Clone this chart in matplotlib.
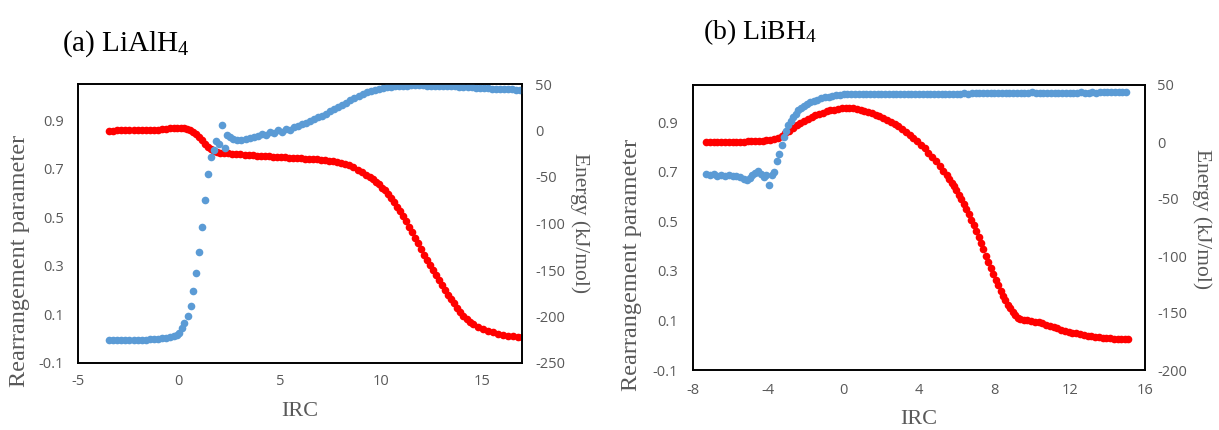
import matplotlib
matplotlib.use("Agg")
import matplotlib.pyplot as plt

plt.rcParams['mathtext.fontset'] = 'custom'
plt.rcParams['mathtext.rm'] = 'Liberation Serif'
plt.rcParams['mathtext.it'] = 'Liberation Serif:italic'

# ---------------- Panel (a) LiAlH4 ----------------
irc_a_energy = [-3.45, -3.25, -3.05, -2.85, -2.65, -2.45, -2.25, -2.05, -1.85, -1.65, -1.45, -1.25,
                -1.05, -0.85, -0.65, -0.45, -0.25, -0.1,
                0.1, 0.25, 0.4, 0.55, 0.7, 0.85, 1.0, 1.15, 1.3, 1.45, 1.6, 1.75, 1.9, 2.05,
                2.25, 2.45, 2.65, 2.85, 3.05, 3.25, 3.45, 3.65, 3.85, 4.05, 4.25, 4.45, 4.65, 4.85,
                5.05, 5.25, 5.45, 5.65, 5.85, 6.05, 6.25, 6.45, 6.65, 6.85, 7.05, 7.25, 7.45, 7.65,
                7.85, 8.05, 8.25, 8.45, 8.65, 8.85, 9.05, 9.25, 9.45,
                9.6, 9.75, 9.9, 10.05, 10.2, 10.35, 10.5, 10.65, 10.8, 10.95, 11.1, 11.25, 11.4,
                11.55, 11.7, 11.85, 12.0, 12.15, 12.3, 12.45, 12.6, 12.75, 12.9, 13.05, 13.2, 13.35,
                13.5, 13.65, 13.8, 13.95, 14.1, 14.25, 14.4, 14.55,
                14.8, 15.05, 15.3, 15.55, 15.8, 16.05, 16.3, 16.55, 16.8, 17.0]
energy_a = [0.0, 0.0, 0.1, 0.1, 0.1, 0.2, 0.2, 0.3, 0.4, 0.5, 0.6, 0.8,
            1.0, 1.4, 1.8, 2.3, 2.7, 3.0,
            3.0, 2.6, 1.7, 0.3, -1.3, -3.6, -6.8, -10.6, -14.6, -17.9, -20.3, -21.9, -23.0, -23.8,
            -24.3, -24.7, -25.0, -25.4, -25.7, -26.0, -26.3, -26.6, -26.9, -27.2, -27.5, -27.8, -28.0, -28.3,
            -28.6, -28.8, -29.1, -29.4, -29.6, -29.9, -30.2, -30.5, -30.8, -31.1, -31.4, -31.8, -32.3, -32.9,
            -33.7, -34.7, -36.0, -37.6, -39.6, -42.0, -44.7, -47.4, -49.8,
            -52.0, -55.0, -58.0, -61.5, -64.5, -68.5, -72.8, -77.2, -82.0, -87.0, -92.0, -97.5, -103.5,
            -109.5, -115.5, -121.5, -127.5, -133.5, -139.0, -144.5, -150.0, -155.5, -161.0, -166.5, -171.5, -176.5,
            -181.5, -186.0, -190.5, -195.0, -199.0, -202.5, -205.5, -208.0,
            -211.0, -213.5, -215.5, -217.0, -218.3, -219.5, -220.5, -221.3, -222.0, -222.5]

irc_a_param = [-3.45, -3.25, -3.05, -2.85, -2.65, -2.45, -2.25, -2.05, -1.85, -1.65, -1.45, -1.25,
               -1.05, -0.85, -0.65, -0.45, -0.25, -0.1, 0.02,
               0.14, 0.27, 0.43, 0.58, 0.71, 0.85, 1.01, 1.14, 1.28, 1.43, 1.58, 1.72, 1.85, 2.0,
               2.15, 2.28, 2.40, 2.55,
               2.7, 2.9, 3.1, 3.3, 3.5, 3.7, 3.9, 4.1, 4.3, 4.5, 4.7, 4.9, 5.1, 5.3, 5.5, 5.7, 5.9,
               6.1, 6.3, 6.5, 6.7, 6.9, 7.1, 7.3, 7.5, 7.7, 7.9, 8.1, 8.3, 8.5, 8.7, 8.9, 9.1, 9.3,
               9.5, 9.7, 9.9, 10.1, 10.3, 10.5, 10.7, 10.9, 11.1, 11.3, 11.5, 11.7, 11.9, 12.1, 12.3,
               12.5, 12.7, 12.9, 13.1, 13.3, 13.5, 13.7, 13.9, 14.1, 14.3, 14.5, 14.7, 14.9, 15.1,
               15.3, 15.5, 15.7, 15.9, 16.1, 16.3, 16.5, 16.7, 16.9]
param_a = [-0.005, -0.005, -0.005, -0.005, -0.005, -0.005, -0.005, -0.005, -0.004, -0.004, -0.003, -0.002,
           -0.001, 0.001, 0.003, 0.006, 0.010, 0.016, 0.025,
           0.043, 0.063, 0.093, 0.137, 0.196, 0.269, 0.357, 0.460, 0.573, 0.677, 0.748, 0.778, 0.815, 0.803,
           0.882, 0.785, 0.840, 0.832,
           0.824, 0.818, 0.820, 0.823, 0.827, 0.831, 0.836, 0.842, 0.838, 0.853, 0.846, 0.861, 0.852, 0.866,
           0.862, 0.874, 0.878,
           0.884, 0.890, 0.898, 0.905, 0.912, 0.920, 0.928, 0.937, 0.946, 0.955, 0.964, 0.973, 0.982, 0.992,
           1.001, 1.009, 1.016,
           1.022, 1.027, 1.031, 1.034, 1.036, 1.038, 1.040, 1.041, 1.042, 1.043, 1.044, 1.044, 1.044, 1.044,
           1.043, 1.043, 1.043, 1.042, 1.042, 1.041, 1.041, 1.040, 1.039, 1.038, 1.038, 1.036, 1.035, 1.034,
           1.033, 1.032, 1.031, 1.030, 1.030, 1.029, 1.028, 1.028, 1.027, 1.027]

# ---------------- Panel (b) LiBH4 ----------------
irc_b_energy = [-7.3, -7.1, -6.9, -6.7, -6.5, -6.3, -6.1, -5.9, -5.7, -5.5, -5.3, -5.1, -4.9, -4.7,
                -4.5, -4.3, -4.1, -3.9, -3.7, -3.5, -3.3, -3.1, -2.9, -2.7, -2.5, -2.3, -2.1, -1.9,
                -1.7, -1.5, -1.3, -1.1, -0.9, -0.7, -0.5, -0.3, -0.1, 0.1, 0.3, 0.5, 0.7, 0.9, 1.1,
                1.3, 1.5, 1.7, 1.9, 2.1, 2.3, 2.5, 2.7, 2.9, 3.1, 3.3, 3.5, 3.7, 3.9, 4.1, 4.3, 4.5,
                4.7, 4.9, 5.1, 5.3, 5.47,
                5.6, 5.73, 5.86, 5.99, 6.12, 6.25, 6.38, 6.51, 6.64, 6.77, 6.9, 7.03, 7.16, 7.29,
                7.42, 7.55, 7.68, 7.81, 7.94, 8.07, 8.2, 8.33, 8.46, 8.59, 8.72, 8.85, 8.98, 9.11,
                9.24, 9.37,
                9.55, 9.75, 9.95, 10.15, 10.35, 10.55, 10.75, 10.95, 11.15, 11.35, 11.55, 11.75,
                11.95, 12.15, 12.35, 12.55, 12.75, 12.95, 13.15, 13.35, 13.55, 13.75, 13.95, 14.15,
                14.35, 14.55, 14.75, 14.95, 15.1]
energy_b = [0.0, 0.0, 0.0, 0.0, 0.1, 0.1, 0.1, 0.2, 0.2, 0.3, 0.4, 0.5, 0.6, 0.8,
            0.9, 1.1, 1.4, 1.9, 2.7, 3.8, 5.6, 7.6, 10.0, 12.5, 14.8, 16.9, 18.8, 20.5,
            22.0, 23.4, 24.7, 25.8, 26.8, 27.7, 28.5, 29.2, 29.8, 30.0, 29.9, 29.5, 28.9, 28.2, 27.4,
            26.4, 25.3, 24.1, 22.8, 21.3, 19.7, 17.9, 15.9, 13.7, 11.4, 8.9, 6.2, 3.4, 0.6, -2.2, -5.6, -9.3,
            -13.1, -17.0, -21.1, -25.3, -29.1,
            -32.3, -35.6, -39.0, -42.5, -46.2, -50.2, -54.4, -58.8, -63.4, -68.2, -73.2, -78.3, -83.5, -88.8,
            -94.2, -99.6, -105.0, -110.4, -115.7, -120.9, -125.8, -130.4, -134.7, -138.8, -142.6, -146.0,
            -149.3, -152.0, -154.0, -155.2,
            -155.9, -156.4, -157.0, -157.6, -158.3, -159.2, -160.2, -161.3, -162.4, -163.5, -164.5, -165.5,
            -166.4, -167.2, -167.9, -168.6, -169.2, -169.8, -170.3, -170.8, -171.2, -171.6, -172.0, -172.3,
            -172.6, -172.8, -173.0, -173.1, -173.2]

irc_b_param = [-7.3, -7.1, -6.9, -6.7, -6.5, -6.3, -6.1, -5.9, -5.7, -5.5, -5.3, -5.15, -5.0, -4.85,
               -4.7, -4.55, -4.4, -4.25, -4.1, -3.95, -3.82, -3.70, -3.56, -3.43, -3.29, -3.15, -3.06,
               -2.94, -2.82, -2.7, -2.55, -2.4, -2.25, -2.1, -1.95, -1.8, -1.6, -1.4, -1.2, -1.0, -0.8,
               -0.6, -0.4, -0.2, 0.0,
               0.2, 0.4, 0.6, 0.8, 1.0, 1.2, 1.4, 1.6, 1.8, 2.0, 2.2, 2.4, 2.6, 2.8, 3.0,
               3.2, 3.4, 3.6, 3.8, 4.0, 4.2, 4.4, 4.6, 4.8, 5.0, 5.2, 5.4, 5.6, 5.8, 6.0,
               6.2, 6.4, 6.6, 6.8, 7.0, 7.2, 7.4, 7.6, 7.8, 8.0, 8.2, 8.4, 8.6, 8.8, 9.0,
               9.2, 9.4, 9.6, 9.8, 10.0, 10.2, 10.4, 10.6, 10.8, 11.0, 11.2, 11.4, 11.6, 11.8, 12.0,
               12.2, 12.4, 12.6, 12.8, 13.0, 13.2, 13.4, 13.6, 13.8, 14.0, 14.2, 14.4, 14.6, 14.8, 15.0]
param_b = [0.690, 0.688, 0.689, 0.683, 0.687, 0.684, 0.686, 0.681, 0.684, 0.678, 0.671, 0.666, 0.676, 0.687,
           0.695, 0.701, 0.690, 0.677, 0.687, 0.646, 0.688, 0.698, 0.743, 0.772, 0.809, 0.840, 0.863,
           0.887, 0.905, 0.920, 0.935, 0.948, 0.958, 0.967, 0.974, 0.980, 0.986, 0.991, 0.996, 1.000, 1.003,
           1.006, 1.008, 1.010, 1.012,
           1.012, 1.012, 1.012, 1.012, 1.012, 1.012, 1.013, 1.012, 1.012, 1.013, 1.013, 1.012, 1.013, 1.013, 1.013,
           1.013, 1.013, 1.014, 1.013, 1.014, 1.014, 1.014, 1.014, 1.015, 1.014, 1.015, 1.015, 1.015, 1.015, 1.015,
           1.015, 1.016, 1.015, 1.016, 1.016, 1.016, 1.016, 1.016, 1.017, 1.016, 1.017, 1.017, 1.017, 1.017, 1.017,
           1.018, 1.017, 1.018, 1.019, 1.020, 1.019, 1.018, 1.018, 1.019, 1.018, 1.018, 1.019, 1.019, 1.018, 1.019,
           1.019, 1.019, 1.020, 1.019, 1.019, 1.020, 1.019, 1.020, 1.020, 1.020, 1.020, 1.020, 1.020, 1.020, 1.020]

# ticks / labels
xticks_a = [-5, 0, 5, 10, 15]
xticks_b = [-8, -4, 0, 4, 8, 12, 16]
yticks_left = [-0.1, 0.1, 0.3, 0.5, 0.7, 0.9]
yticklabels_left = ['-0.1', '0.1', '0.3', '0.5', '0.7', '0.9']
yticks_right_a = [-250, -200, -150, -100, -50, 0, 50]
yticks_right_b = [-200, -150, -100, -50, 0, 50]

BLUE = '#5B9BD5'
RED = '#FF0000'
GRAY = '#595959'
TICKFONT = dict(family='Open Sans', size=10.5)

W, H = 1219, 430
fig = plt.figure(figsize=(W / 100, H / 100), dpi=100)


def make_panel(rect, xlim, xticks, ylim_r, yticks_r, irc_p, par, irc_e, en, pads):
    l, r, t, b = rect
    ax = fig.add_axes([l / W, 1 - b / H, (r - l) / W, (b - t) / H])
    ax2 = ax.twinx()
    ax.set_zorder(ax2.get_zorder() + 1)
    ax.patch.set_visible(False)
    ms = 5.5
    ax2.plot(irc_e, en, 'o', color=RED, ms=ms, mew=0)
    ax.plot(irc_p, par, 'o', color=BLUE, ms=ms, mew=0)
    ax.set_xlim(*xlim)
    ax.set_ylim(-0.1, 1.05)
    ax2.set_ylim(*ylim_r)
    ax.set_xticks(xticks)
    ax.set_xticklabels([str(v) for v in xticks])
    ax.set_yticks(yticks_left)
    ax.set_yticklabels(yticklabels_left)
    ax2.set_yticks(yticks_r)
    ax2.set_yticklabels([str(v) for v in yticks_r])
    for a in (ax, ax2):
        for lab in a.get_xticklabels() + a.get_yticklabels():
            lab.set_fontfamily(TICKFONT['family'])
            lab.set_fontsize(TICKFONT['size'])
            lab.set_color(GRAY)
        for s in a.spines.values():
            s.set_color('black')
            s.set_linewidth(1.2)
    ax.tick_params(axis='y', length=0, pad=pads[0])
    ax.tick_params(axis='x', length=0, pad=pads[2])
    ax2.tick_params(axis='y', length=0, pad=pads[1])
    return ax, ax2


make_panel((78, 522, 84, 363), (-5, 17), xticks_a, (-250, 50), yticks_right_a,
           irc_a_param, param_a, irc_a_energy, energy_a, (10, 9.5, 8))
make_panel((693, 1145, 85, 370), (-8, 16), xticks_b, (-200, 50), yticks_right_b,
           irc_b_param, param_b, irc_b_energy, energy_b, (11, 9, 9))

SERIF = 'Liberation Serif'


def ftext(x, y, s, **kw):
    fig.text(x / W, 1 - y / H, s, family=SERIF, **kw)


ftext(62, 44, '(a) LiAlH$_4$', fontsize=21, ha='left', va='center', color='black')
ftext(703, 32, '(b) LiBH$_4$', fontsize=20, ha='left', va='center', color='black')
ftext(20, 261, 'Rearrangement parameter', fontsize=17.5, rotation=90, ha='center', va='center', color=GRAY)
ftext(632, 265, 'Rearrangement parameter', fontsize=17.5, rotation=90, ha='center', va='center', color=GRAY)
ftext(580, 223, 'Energy (kJ/mol)', fontsize=15.5, rotation=270, ha='center', va='center', color=GRAY)
ftext(1202, 219, 'Energy (kJ/mol)', fontsize=15.5, rotation=270, ha='center', va='center', color=GRAY)
ftext(300, 412, 'IRC', fontsize=16, ha='center', va='center', color=GRAY)
ftext(919, 420, 'IRC', fontsize=16, ha='center', va='center', color=GRAY)

fig.savefig('out.png', dpi=100)
